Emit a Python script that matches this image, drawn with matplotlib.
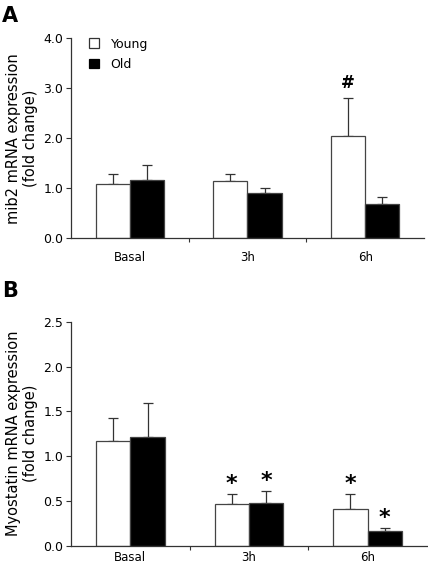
import numpy as np
import matplotlib.pyplot as plt
from matplotlib.patches import Patch

# data
groups = ["Basal", "3h", "6h"]
series = ["Young", "Old"]

mib2_young = [1.09, 1.15, 2.05]
mib2_young_err = [0.20, 0.13, 0.76]
mib2_old = [1.17, 0.91, 0.69]
mib2_old_err = [0.30, 0.10, 0.14]
mib2_young_mark = ["", "", "#"]
mib2_old_mark = ["", "", ""]

myo_young = [1.17, 0.47, 0.41]
myo_young_err = [0.26, 0.11, 0.17]
myo_old = [1.21, 0.48, 0.16]
myo_old_err = [0.38, 0.13, 0.04]
myo_young_mark = ["", "*", "*"]
myo_old_mark = ["", "*", "*"]

plt.rcParams['font.family'] = ['DejaVu Sans']

fig = plt.figure(figsize=(4.28, 5.68), dpi=100)

W = 428.0
H = 568.0


def panel(rect, young, young_err, old, old_err, ymax, step, ylabel,
          ymark, omark, mark_off, xpad):
    ax = fig.add_axes(rect)
    x = np.arange(len(groups))
    w = 0.29
    for xs, vals, errs, col, marks in [(x - w / 2, young, young_err, "white", ymark),
                                       (x + w / 2, old, old_err, "black", omark)]:
        ax.bar(xs, vals, w, color=col, edgecolor="#444444", linewidth=0.9, zorder=2)
        ax.errorbar(xs, vals, yerr=[np.zeros(len(vals)), errs], fmt="none",
                    ecolor="#333333", elinewidth=0.9, capsize=3.5, capthick=0.9, zorder=1)
        for xi, v, e, m in zip(xs, vals, errs, marks):
            if m:
                ax.text(xi, v + e + mark_off, m, ha="center", va="bottom",
                        fontsize=16 if m == "*" else 12, fontweight="bold")
    ax.set_xlim(-0.5, 2.5)
    ax.set_ylim(0, ymax)
    ax.set_yticks(np.arange(0, ymax + step / 2, step))
    ax.set_yticklabels(["%.1f" % t for t in np.arange(0, ymax + step / 2, step)])
    ax.set_xticks([0.5, 1.5])
    ax.set_xticklabels([])
    ax.set_xticks(x, minor=True)
    ax.set_xticklabels(groups, minor=True)
    ax.tick_params(axis="x", which="major", length=3, width=0.8, color="#333333")
    ax.tick_params(axis="x", which="minor", length=0, pad=xpad, labelsize=8.5)
    ax.tick_params(axis="y", length=3.5, width=0.8, color="#333333", labelsize=9, pad=2)
    for s in ["top", "right"]:
        ax.spines[s].set_visible(False)
    for s in ["left", "bottom"]:
        ax.spines[s].set_color("#333333")
        ax.spines[s].set_linewidth(0.9)
    ax.set_ylabel(ylabel, fontsize=10.5, labelpad=4, linespacing=1.15)
    return ax


axA = panel([71 / W, 1 - 238.3 / H, 353 / W, 200 / H],
            mib2_young, mib2_young_err, mib2_old, mib2_old_err, 4.0, 1.0,
            "mib2 mRNA expression\n(fold change)", mib2_young_mark, mib2_old_mark, 0.12, 9)
axB = panel([71 / W, 1 - 545.7 / H, 356 / W, 224 / H],
            myo_young, myo_young_err, myo_old, myo_old_err, 2.5, 0.5,
            "Myostatin mRNA expression\n(fold change)", myo_young_mark, myo_old_mark, 0.0, 4)

handles = [Patch(facecolor="white", edgecolor="#333333", linewidth=0.9),
           Patch(facecolor="black", edgecolor="black", linewidth=0.9)]
axA.legend(handles, series, loc="upper left", bbox_to_anchor=(0.02, 1.06),
           frameon=False, handlelength=0.8, handleheight=0.8, handletextpad=0.9,
           labelspacing=0.6, fontsize=9)

fig.text(0.005, 0.99, "A", fontsize=15, fontweight="bold", va="top", ha="left")
fig.text(0.005, 1 - 281 / H, "B", fontsize=15, fontweight="bold", va="top", ha="left")

plt.savefig("out.png", dpi=100)
